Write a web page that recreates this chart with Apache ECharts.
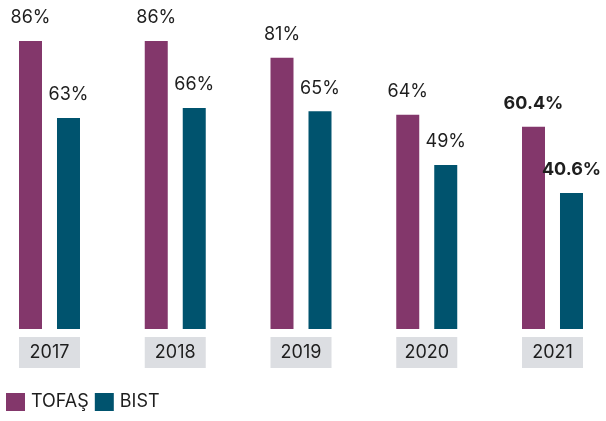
<!DOCTYPE html>
<html>
<head>
<meta charset="utf-8">
<script src="https://cdn.jsdelivr.net/npm/echarts@6/dist/echarts.min.js"></script>
<style>
  html, body { margin: 0; padding: 0; background: #ffffff; }
  #chart { width: 606px; height: 421px; }
</style>
</head>
<body>
<div id="chart"></div>
<script>
// Yearly percentages, TOFAŞ vs BIST
const years = ['2017', '2018', '2019', '2020', '2021'];
const tofas = [86, 86, 81, 64, 60.4];
const bist = [63, 66, 65, 49, 40.6];
const seriesNames = ['TOFAŞ', 'BIST'];
const boldYear = '2021';

const FONT = 'Inter, "Open Sans", sans-serif';
const TEXT = '#1e1e1e';
const COLORS = ['#83376b', '#00536e'];

function toItems(values) {
  return values.map((v, i) => {
    const item = { value: v };
    if (years[i] === boldYear) {
      item.label = { fontWeight: 'bold' };
    }
    return item;
  });
}

function makeSeries(name, values, color) {
  return {
    name: name,
    type: 'bar',
    data: toItems(values),
    barWidth: 23,
    barGap: '65.2%',
    itemStyle: { color: color },
    label: {
      show: true,
      position: 'top',
      distance: 14,
      formatter: '{c}%',
      color: TEXT,
      fontFamily: FONT,
      fontSize: 18
    }
  };
}

const chart = echarts.init(document.getElementById('chart'), null, { renderer: 'canvas' });
chart.setOption({
  animation: false,
  backgroundColor: '#ffffff',
  color: COLORS,
  // tick positions sit on the group centres (boundaryGap off)
  grid: { left: 49.5, right: 53.5, top: 41, height: 288 },
  legend: {
    data: seriesNames,
    left: 6,
    top: 393,
    padding: 0,
    itemWidth: 19,
    itemHeight: 18,
    itemGap: 6,
    icon: 'rect',
    textStyle: { color: TEXT, fontFamily: FONT, fontSize: 18, padding: [0, 0, 0, 1] }
  },
  xAxis: {
    type: 'category',
    data: years,
    boundaryGap: false,
    axisLine: { show: false },
    axisTick: { show: false },
    axisLabel: {
      margin: 8,
      color: TEXT,
      fontFamily: FONT,
      fontSize: 18,
      backgroundColor: '#dcdee2',
      width: 61,
      height: 31,
      lineHeight: 31,
      align: 'center'
    }
  },
  yAxis: {
    type: 'value',
    min: 0,
    max: 86,
    show: false,
    splitLine: { show: false }
  },
  series: [
    makeSeries(seriesNames[0], tofas, COLORS[0]),
    makeSeries(seriesNames[1], bist, COLORS[1])
  ]
});
</script>
</body>
</html>
